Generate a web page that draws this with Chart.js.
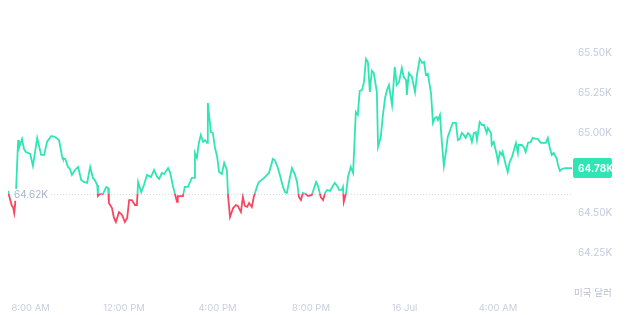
<!DOCTYPE html>
<html>
<head>
<meta charset="utf-8">
<script src="https://cdn.jsdelivr.net/npm/chart.js@4.4.0/dist/chart.umd.min.js"></script>
<style>
  html, body { margin: 0; padding: 0; background: #fff; }
  #wrap { width: 640px; height: 315px; }
</style>
</head>
<body>
<div id="wrap"><canvas id="priceChart" width="640" height="315"></canvas></div>
<script>
// time in minutes from midnight of 15 Jul (values past 1440 are 16 Jul)
const times = [
  422, 425, 432, 435, 438, 440, 443, 448, 450, 458,
  463, 468, 479, 486, 497, 507, 515, 522, 533, 543,
  553, 561, 563, 569, 576, 581, 586, 594, 602, 610,
  617, 625, 633, 640, 645, 651, 653, 658, 666, 674,
  679, 681, 689, 694, 699, 707, 715, 722, 728, 733,
  740, 748, 753, 756, 764, 771, 779, 789, 797, 805,
  810, 817, 823, 833, 838, 846, 856, 858, 871, 876,
  884, 894, 900, 902, 907, 912, 917, 923, 928, 933,
  935, 943, 948, 953, 959, 964, 971, 977, 984, 987,
  992, 1000, 1007, 1012, 1020, 1025, 1030, 1036, 1041, 1048,
  1053, 1061, 1066, 1077, 1084, 1092, 1097, 1102, 1107, 1115,
  1120, 1128, 1133, 1138, 1146, 1151, 1159, 1164, 1169, 1174,
  1179, 1187, 1192, 1202, 1213, 1218, 1225, 1231, 1236, 1241,
  1249, 1256, 1261, 1269, 1272, 1279, 1282, 1284, 1290, 1295,
  1302, 1308, 1315, 1320, 1325, 1331, 1336, 1341, 1346, 1351,
  1356, 1361, 1369, 1372, 1379, 1384, 1390, 1395, 1400, 1408,
  1415, 1420, 1426, 1433, 1438, 1444, 1446, 1451, 1459, 1467,
  1472, 1479, 1485, 1490, 1495, 1500, 1508, 1513, 1518, 1523,
  1526, 1531, 1536, 1541, 1546, 1551, 1559, 1564, 1572, 1577,
  1582, 1587, 1592, 1597, 1603, 1608, 1613, 1618, 1623, 1626,
  1633, 1639, 1644, 1651, 1654, 1662, 1664, 1669, 1677, 1680,
  1685, 1690, 1692, 1700, 1705, 1710, 1716, 1721, 1726, 1731,
  1733, 1741, 1746, 1751, 1757, 1764, 1769, 1777, 1782, 1790,
  1795, 1803, 1808, 1813, 1818, 1823, 1831, 1834, 1839, 1844,
  1852, 1859, 1870
];
const prices = [
  64638, 64606, 64544, 64537, 64500, 64544, 64663, 64956, 64906, 64963,
  64900, 64881, 64869, 64794, 64969, 64863, 64863, 64944, 64981, 64975,
  64956, 64850, 64838, 64838, 64788, 64775, 64738, 64769, 64788, 64706,
  64694, 64688, 64788, 64719, 64706, 64675, 64606, 64619, 64619, 64663,
  64656, 64563, 64531, 64469, 64444, 64506, 64488, 64444, 64469, 64581,
  64581, 64550, 64550, 64694, 64631, 64675, 64738, 64725, 64769, 64725,
  64713, 64750, 64744, 64781, 64756, 64663, 64569, 64606, 64606, 64663,
  64663, 64719, 64719, 64875, 64844, 64938, 64988, 64944, 64956, 64938,
  65188, 65006, 65000, 64913, 64850, 64756, 64744, 64813, 64769, 64606,
  64475, 64531, 64550, 64544, 64506, 64600, 64544, 64538, 64563, 64538,
  64600, 64663, 64694, 64713, 64731, 64750, 64794, 64838, 64831, 64781,
  64738, 64663, 64631, 64625, 64725, 64781, 64738, 64694, 64600, 64581,
  64625, 64619, 64606, 64613, 64694, 64669, 64600, 64581, 64625, 64644,
  64638, 64669, 64688, 64663, 64644, 64644, 64663, 64569, 64625, 64725,
  64788, 64750, 65131, 65113, 65263, 65269, 65319, 65463, 65444, 65256,
  65388, 65375, 65256, 64913, 64975, 65100, 65219, 65269, 65300, 65175,
  65413, 65300, 65319, 65406, 65350, 65331, 65238, 65375, 65350, 65256,
  65363, 65463, 65438, 65444, 65363, 65369, 65250, 65063, 65094, 65100,
  65081, 65113, 64938, 64794, 64875, 64975, 65031, 65063, 65063, 64956,
  64963, 65000, 64988, 64969, 65000, 64988, 64944, 65000, 65006, 64956,
  65069, 65050, 65050, 65000, 65031, 65000, 64925, 64944, 64863, 64819,
  64881, 64863, 64881, 64800, 64756, 64819, 64850, 64894, 64938, 64875,
  64925, 64925, 64913, 64881, 64938, 64944, 64969, 64963, 64963, 64938,
  64938, 64938, 64969, 64906, 64863, 64875, 64838, 64800, 64763, 64775,
  64781, 64781, 64781
];
const xTickValues = [480, 720, 960, 1200, 1440, 1680];
const xTickLabels = ['8:00 AM', '12:00 PM', '4:00 PM', '8:00 PM', '16 Jul', '4:00 AM'];
const yTickValues = [64250, 64500, 65000, 65250, 65500];
const basePrice = 64620;
const lastPrice = 64781;
const unitLabel = '미국 달러';

const GREEN = '#2fe5b4';
const RED = '#f5475f';
const FONT = "Inter, 'Noto Sans CJK KR', sans-serif";

function fmtK(v) {
    return (v / 1000).toFixed(2) + 'K';
}

// dotted base line, base label, last price tag, unit text
const overlay = {
    id: 'overlay',
    beforeDatasetsDraw(chart) {
        const ctx = chart.ctx;
        const area = chart.chartArea;
        const yb = Math.round(chart.scales.y.getPixelForValue(basePrice));
        ctx.save();
        ctx.fillStyle = '#d8dce6';
        for (let x = 48; x < area.right; x += 3) {
            ctx.fillRect(x, yb, 1, 1);
        }
        ctx.restore();
    },
    afterDraw(chart) {
        const ctx = chart.ctx;
        const y = chart.scales.y;
        const yb = y.getPixelForValue(basePrice);
        const yl = y.getPixelForValue(lastPrice);
        ctx.save();
        ctx.font = '10px ' + FONT;
        ctx.textBaseline = 'middle';
        const w = ctx.measureText(fmtK(basePrice)).width;
        ctx.fillStyle = '#ffffff';
        ctx.fillRect(13, yb - 5, w + 3, 12);
        ctx.fillStyle = '#a9b2c9';
        ctx.fillText(fmtK(basePrice), 14, yb + 1);

        // last price tag
        const x0 = chart.chartArea.right + 1;
        ctx.fillStyle = GREEN;
        ctx.beginPath();
        ctx.roundRect(x0, yl - 10, 39, 20, 2);
        ctx.fill();
        ctx.fillStyle = '#ffffff';
        ctx.font = 'bold 10px ' + FONT;
        ctx.fillText(fmtK(lastPrice), x0 + 5, yl + 0.5);

        ctx.font = '9.5px ' + FONT;
        ctx.fillStyle = '#b7bfd3';
        ctx.fillText(unitLabel, 574, 293);
        ctx.restore();
    }
};

const ctx = document.getElementById('priceChart').getContext('2d');
new Chart(ctx, {
    type: 'line',
    data: {
        datasets: [{
            data: times.map((t, i) => ({ x: t, y: prices[i] })),
            borderWidth: 1.8,
            pointRadius: 0,
            tension: 0,
            borderColor: function (c) {
                const chart = c.chart;
                const area = chart.chartArea;
                if (!area) return GREEN;
                const yb = chart.scales.y.getPixelForValue(basePrice);
                const f = Math.min(1, Math.max(0, (yb - area.top) / (area.bottom - area.top)));
                const g = chart.ctx.createLinearGradient(0, area.top, 0, area.bottom);
                g.addColorStop(0, GREEN);
                g.addColorStop(f, GREEN);
                g.addColorStop(f, RED);
                g.addColorStop(1, RED);
                return g;
            }
        }]
    },
    options: {
        responsive: false,
        animation: false,
        layout: { padding: { left: 8, top: 33, right: 0, bottom: 0 } },
        scales: {
            x: {
                type: 'linear',
                min: 422,
                max: 1870,
                grid: { display: false, drawTicks: false },
                border: { display: false },
                afterBuildTicks: function (scale) {
                    scale.ticks = xTickValues.map(v => ({ value: v }));
                },
                afterFit: function (scale) {
                    scale.height = 42;
                    scale.paddingLeft = 0;
                    scale.paddingRight = 0;
                },
                ticks: {
                    autoSkip: false,
                    maxRotation: 0,
                    padding: 29,
                    color: '#c9cfdd',
                    font: { family: FONT, size: 9.5 },
                    callback: function (v) {
                        const i = xTickValues.indexOf(v);
                        return i >= 0 ? xTickLabels[i] : '';
                    }
                }
            },
            y: {
                position: 'right',
                min: 64125,
                max: 65625,
                grid: { display: false, drawTicks: false },
                border: { display: false },
                afterBuildTicks: function (scale) {
                    scale.ticks = yTickValues.map(v => ({ value: v }));
                },
                afterFit: function (scale) {
                    scale.width = 68;
                    scale.paddingTop = 0;
                    scale.paddingBottom = 0;
                },
                ticks: {
                    padding: 6,
                    color: '#c3cadd',
                    font: { family: FONT, size: 10 },
                    callback: v => fmtK(v)
                }
            }
        },
        plugins: {
            legend: { display: false },
            tooltip: { enabled: false }
        }
    },
    plugins: [overlay]
});
</script>
</body>
</html>
